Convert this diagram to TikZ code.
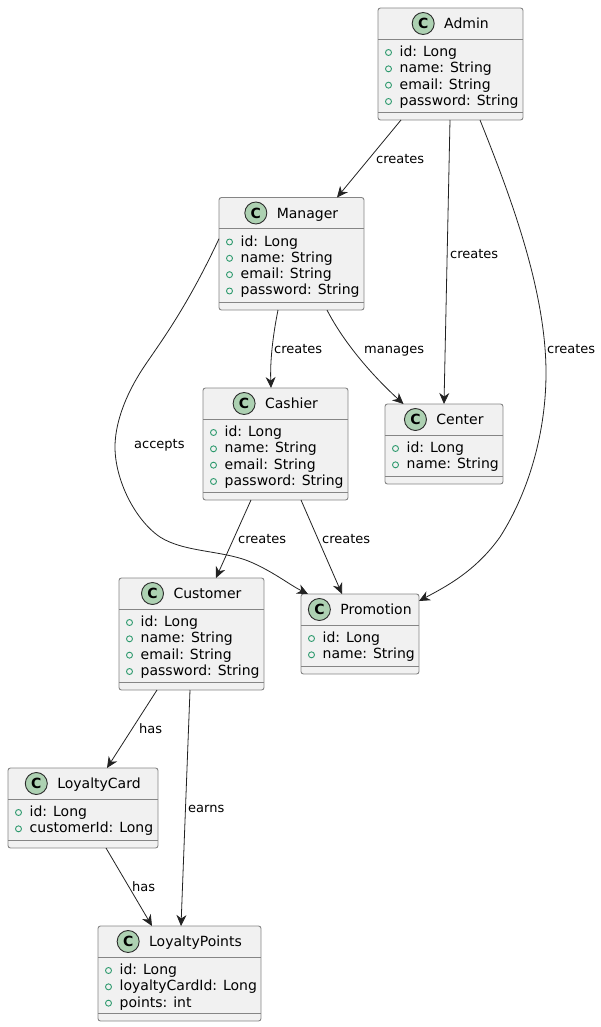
\documentclass[tikz,border=0pt]{standalone}
\usepackage{fontspec}
\setmainfont{DejaVu Sans}
\usetikzlibrary{arrows.meta,positioning}
\definecolor{boxfill}{HTML}{F1F1F1}
\definecolor{boxline}{HTML}{858585}
\definecolor{iconfill}{HTML}{ADD1B2}
\definecolor{iconline}{HTML}{2B2B2B}
\definecolor{memberdot}{HTML}{2E9A6E}
\definecolor{wire}{HTML}{222222}
\tikzset{
    classbox/.style={draw=boxline, fill=boxfill, line width=.9pt, rounded corners=2.5pt, inner sep=0pt, outer sep=0pt, anchor=north west},
    classline/.style={draw=boxline, line width=.9pt},
    classtitle/.style={inner sep=0pt, outer sep=0pt, anchor=base, text height=13pt, text depth=3pt, font=\fontsize{14}{16}\selectfont},
    classicon/.style={circle, draw=iconline, fill=iconfill, line width=.9pt, minimum size=22pt, inner sep=0pt, outer sep=0pt, font=\fontsize{14}{16}\selectfont\bfseries},
    memberrow/.style={inner sep=0pt, anchor=base west, font=\fontsize{14}{16}\selectfont},
    memberdotnode/.style={circle, draw=memberdot, line width=.9pt, minimum size=6pt, inner sep=0pt},
    edgelabel/.style={inner sep=0pt, anchor=west, text height=10pt, text depth=3pt, font=\fontsize{13}{15}\selectfont},
    wired/.style={draw=wire, line width=.8pt, -{Stealth[length=11pt,width=10pt,inset=3.5pt]}},
}
% name, left, top, width, height, title, members
\newcommand{\umlclass}[7]{
    \node [classbox, minimum width=#4pt, minimum height=#5pt] (#1) at (#2,#3) {};
    \draw [classline] ([yshift=-31pt]#1.north west) -- ([yshift=-31pt]#1.north east);
    \draw [classline] ([yshift=8pt]#1.south west) -- ([yshift=8pt]#1.south east);
    \node [classtitle] (#1-title) at (#2+#4/2+16,#3+20.5) {#6};
    \node [classicon, left=10pt of #1-title] (#1-icon) {C};
    \foreach \m [count=\i] in {#7} {
        \node [memberdotnode] (#1-dot\i) at (#2+10.5,#3+44.5+16.33*\i-16.33) {};
        \node [memberrow] (#1-row\i) at (#2+21.5,#3+48.5+16.33*\i-16.33) {\m};
    }
}
\begin{document}
\begin{tikzpicture}[x=1pt,y=-1pt]
    \useasboundingbox (0,0) rectangle (601,1027);
    \umlclass{admin}{378}{8}{145}{112}{Admin}{id: Long,name: String,email: String,password: String}
    \umlclass{manager}{219}{197.5}{145}{112.5}{Manager}{id: Long,name: String,email: String,password: String}
    \umlclass{cashier}{203}{388}{145}{112}{Cashier}{id: Long,name: String,email: String,password: String}
    \umlclass{center}{385}{404}{118}{80}{Center}{id: Long,name: String}
    \umlclass{customer}{119}{578}{145}{112}{Customer}{id: Long,name: String,email: String,password: String}
    \umlclass{promotion}{301}{594}{118}{80}{Promotion}{id: Long,name: String}
    \umlclass{card}{8}{768}{150}{80}{LoyaltyCard}{id: Long,customerId: Long}
    \umlclass{points}{98}{926}{163}{95}{LoyaltyPoints}{id: Long,loyaltyCardId: Long,points: int}
    % connectors
    \draw [wired] ([xshift=-49.5pt]admin.south) -- ([xshift=45.5pt]manager.north);
    \draw [wired] ([xshift=-0.5pt]admin.south) -- (center.north);
    \draw [wired] ([xshift=29.5pt]admin.south) .. controls (510,195) and (546,290) .. (546,373)
        .. controls (546,430) and (530,490) .. (500,537) .. controls (475,572) and (445,587) .. ([yshift=-7pt]promotion.north east);
    \draw [wired] ([yshift=15pt]manager.west) .. controls (180,322) and (150,355) .. (137,378)
        .. controls (124,400) and (115,425) .. (115,447) .. controls (115,480) and (135,520) .. (160,537)
        .. controls (185,553) and (225,550) .. (253,563) .. controls (275,573) and (290,585) .. (308,594);
    \draw [wired] ([xshift=-13.5pt]manager.south) .. controls (273,335) and (270,360) .. ([xshift=-4.5pt]cashier.north);
    \draw [wired] ([xshift=35.5pt]manager.south) .. controls (345,345) and (375,378) .. ([xshift=-40.5pt]center.north);
    \draw [wired] ([xshift=-24.5pt]cashier.south) -- ([xshift=24.5pt]customer.north);
    \draw [wired] ([xshift=25.5pt]cashier.south) -- ([xshift=-18pt]promotion.north);
    \draw [wired] ([xshift=-34.5pt]customer.south) -- ([xshift=24pt]card.north);
    \draw [wired] ([xshift=-1.5pt]customer.south) -- ([xshift=1.5pt]points.north);
    \draw [wired] ([xshift=23pt]card.south) -- ([xshift=-27.5pt]points.north);
    % labels
    \node [edgelabel] (lbl-adminmanager) at (376,160) {creates};
    \node [edgelabel] (lbl-admincenter) at (450,254.5) {creates};
    \node [edgelabel] (lbl-adminpromo) at (547,349.5) {creates};
    \node [edgelabel] (lbl-managercashier) at (274,349.5) {creates};
    \node [edgelabel] (lbl-managercenter) at (364,349.5) {manages};
    \node [edgelabel] (lbl-accepts) at (134,444.5) {accepts};
    \node [edgelabel] (lbl-cashiercustomer) at (238,539.5) {creates};
    \node [edgelabel] (lbl-cashierpromo) at (322,539.5) {creates};
    \node [edgelabel] (lbl-customercard) at (139,729.5) {has};
    \node [edgelabel] (lbl-customerpoints) at (188,808.5) {earns};
    \node [edgelabel] (lbl-cardpoints) at (132,887.5) {has};
\end{tikzpicture}
\end{document}
